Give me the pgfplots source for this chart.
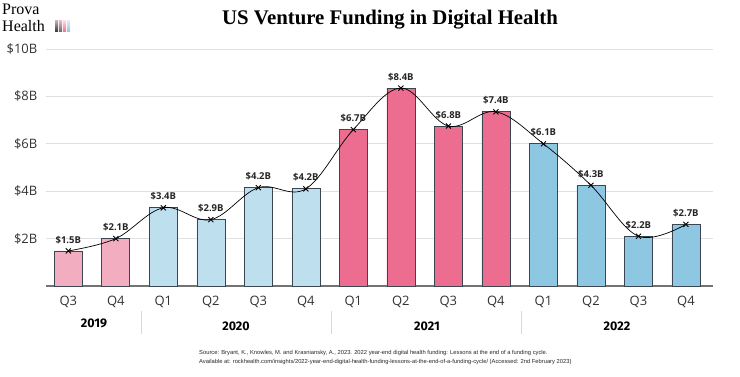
\documentclass[border=0pt]{standalone}
\usepackage{pgfplots}
\pgfplotsset{compat=1.18}
\usepackage{fontspec}
\setmainfont{Open Sans}
\newfontfamily\titlefont{Liberation Serif}
\newfontfamily\yearfont{Fira Sans}
\newfontfamily\srcfont{Liberation Sans}
\definecolor{pinkA}{HTML}{F2AEC0}
\definecolor{blueA}{HTML}{BEE0EE}
\definecolor{pinkB}{HTML}{EC6D8F}
\definecolor{blueB}{HTML}{8EC7E2}
\definecolor{edgeC}{HTML}{3C4650}
\begin{document}
\begin{tikzpicture}[x=1pt,y=1pt]
\useasboundingbox (0,0) rectangle (740,377);
\begin{axis}[
  at={(46pt,91pt)}, anchor=south west,
  scale only axis, width=667pt, height=237pt,
  xmin=-0.47, xmax=13.57, ymin=0, ymax=10,
  axis x line=bottom, axis y line=left,
  x axis line style={-, draw=black!55, line width=1.2pt},
  y axis line style={draw=none},
  tick style={draw=none},
  ytick={2,4,6,8,10},
  yticklabels={\$2B,\$4B,\$6B,\$8B,\$10B},
  ymajorgrids, grid style={draw=black!12, line width=0.9pt},
  xtick={0,...,13},
  xticklabels={Q3,Q4,Q1,Q2,Q3,Q4,Q1,Q2,Q3,Q4,Q1,Q2,Q3,Q4},
  /pgf/number format/assume math mode=true,
  yticklabel style={font=\fontsize{13}{14}\selectfont\color{black!80}, anchor=east, xshift=-3pt},
  xticklabel style={font=\fontsize{13}{14}\selectfont\color{black!80}, yshift=-2pt},
  ybar, bar width=28pt, bar shift=0pt,
  clip=false,
]
\addplot[fill=pinkA, draw=edgeC, line width=0.7pt] coordinates {(0,1.48) (1,2.0)};
\addplot[fill=blueA, draw=edgeC, line width=0.7pt] coordinates {(2,3.3) (3,2.8) (4,4.15) (5,4.1)};
\addplot[fill=pinkB, draw=edgeC, line width=0.7pt] coordinates {(6,6.6) (7,8.35) (8,6.75) (9,7.35)};
\addplot[fill=blueB, draw=edgeC, line width=0.7pt] coordinates {(10,6.0) (11,4.25) (12,2.1) (13,2.6)};
\addplot[sharp plot, smooth, tension=0.6, draw=black, line width=0.7pt, mark=x, mark size=3.6pt,
  mark options={line width=0.9pt},
  point meta=explicit symbolic,
  nodes near coords,
  every node near coord/.append style={font=\bfseries\fontsize{9.5}{10}\selectfont, color=black!85, anchor=south, yshift=3.5pt}]
  coordinates {
  (0,1.48) [\$1.5B]
  (1,2.0) [\$2.1B]
  (2,3.3) [\$3.4B]
  (3,2.8) [\$2.9B]
  (4,4.15) [\$4.2B]
  (5,4.1) [\$4.2B]
  (6,6.6) [\$6.7B]
  (7,8.35) [\$8.4B]
  (8,6.75) [\$6.8B]
  (9,7.35) [\$7.4B]
  (10,6.0) [\$6.1B]
  (11,4.25) [\$4.3B]
  (12,2.1) [\$2.2B]
  (13,2.6) [\$2.7B]
  };
\end{axis}
% title and logo
\node[font=\titlefont\bfseries\fontsize{20.8}{22}\selectfont] at (390,357) {US Venture Funding in Digital Health};
\node[font=\titlefont\fontsize{16}{16}\selectfont, anchor=base west, inner sep=0] at (2,362) {Prova};
\node[font=\titlefont\fontsize{16}{16}\selectfont, anchor=base west, inner sep=0] at (2,345) {Health};
\shade[bottom color=black!80, top color=black!30] (55,345) rectangle (58,356);
\shade[bottom color=black!60, top color=pinkA] (59,345) rectangle (62,356);
\shade[bottom color=pinkB, top color=pinkA!50] (63,345) rectangle (66,356);
\shade[bottom color=blueB, top color=blueA!60] (67,345) rectangle (70,356);
% years
\draw[black!15, line width=0.8pt] (141,66) -- (141,43);
\draw[black!15, line width=0.8pt] (331,66) -- (331,43);
\draw[black!15, line width=0.8pt] (521,66) -- (521,43);
\node[font=\yearfont\bfseries\fontsize{12.5}{13}\selectfont] at (94,54) {2019};
\node[font=\yearfont\bfseries\fontsize{12.5}{13}\selectfont] at (236,51) {2020};
\node[font=\yearfont\bfseries\fontsize{12.5}{13}\selectfont] at (427,51) {2021};
\node[font=\yearfont\bfseries\fontsize{12.5}{13}\selectfont] at (617,51) {2022};
% source
\node[font=\srcfont\fontsize{5.8}{6.5}\selectfont, anchor=base west, inner sep=0, color=black!85] at (199,22) {Source: Bryant, K., Knowles, M. and Krasniansky, A., 2023. 2022 year-end digital health funding: Lessons at the end of a funding cycle.};
\node[font=\srcfont\fontsize{5.8}{6.5}\selectfont, anchor=base west, inner sep=0, color=black!85] at (199,13) {Available at: rockhealth.com/insights/2022-year-end-digital-health-funding-lessons-at-the-end-of-a-funding-cycle/ (Accessed: 2nd February 2023)};
\end{tikzpicture}
\end{document}
